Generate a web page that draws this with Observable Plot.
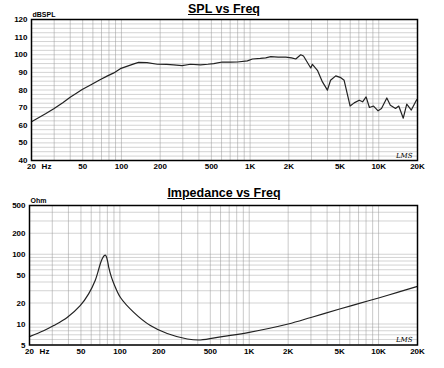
<!DOCTYPE html>
<html>
<head>
<meta charset="utf-8">
<script src="https://cdn.jsdelivr.net/npm/d3@7"></script>
<script src="https://cdn.jsdelivr.net/npm/@observablehq/plot@0.6"></script>
<style>
  html, body { margin: 0; padding: 0; background: #fff; }
  #wrap { position: relative; width: 444px; height: 368px; font-family: "Liberation Sans", Arial, sans-serif; }
  #wrap svg { position: absolute; left: 0; }
  .title { position: absolute; left: 0; width: 444px; text-align: center; font-weight: bold; font-size: 12.5px; line-height: 14px; text-decoration: underline; text-underline-offset: 1px; color: #000; padding-left: 4px; box-sizing: border-box; z-index: 2; }
</style>
</head>
<body>
<div id="wrap">
  <div class="title" style="top:2px">SPL vs Freq</div>
  <div class="title" style="top:186px">Impedance vs Freq</div>
</div>
<script>
// SPL response (Hz, dB)
const splFreq = [20, 25.7, 29.8, 35, 40.2, 45, 49.5, 58, 68.7, 78, 87.3, 98, 110, 125, 136, 158, 190, 225, 255, 296, 344, 411, 470, 522, 607, 700, 797, 953, 1043, 1200, 1322, 1449, 1650, 1894, 2100, 2264, 2474, 2600, 2960, 3050, 3336, 3650, 3990, 4220, 4630, 5070, 5380, 5990, 6440, 7050, 7490, 7970, 8460, 9110, 9880, 10500, 11550, 12300, 13500, 14300, 15500, 16500, 17900, 19600, 20000];
const splDb   = [62, 66.5, 69.3, 72.8, 76, 78.3, 80.3, 83, 86, 88, 89.7, 92.1, 93.4, 94.8, 95.7, 95.5, 94.6, 94.5, 94.3, 93.8, 94.6, 94.3, 94.6, 95, 95.9, 95.8, 95.9, 96.5, 97.6, 97.9, 98.2, 98.9, 98.7, 98.6, 98.2, 97.6, 100, 99.3, 92.5, 94.6, 91.2, 84.6, 79.9, 85.5, 88, 87, 85.5, 70.9, 72.7, 74.2, 73.3, 76.1, 70.1, 70.9, 68.2, 69.5, 75.5, 71.4, 69.5, 70.9, 64, 72, 68.6, 74.2, 74.8];

// Impedance (Hz, Ohm)
const impFreq = [20, 25.7, 30.8, 39.1, 49.3, 57.3, 64.4, 67.5, 70.4, 73, 75.5, 77, 78.5, 80.5, 82, 86, 90, 101, 128, 172, 232, 332, 420, 618, 1000, 2000, 3000, 5000, 7000, 10000, 14000, 20000];
const impOhm  = [6.6, 8.0, 9.5, 12.4, 18.3, 27, 42, 55, 72, 86, 95, 97, 93, 78, 65, 47, 37.5, 24, 14.7, 9.5, 7.3, 6.1, 5.9, 6.6, 7.6, 10, 12.4, 16.4, 19.6, 23.6, 28.4, 34.7];

// axes / grid values
const xTicks = [20, 50, 100, 200, 500, 1000, 2000, 5000, 10000, 20000];
const splTicks = [40, 50, 60, 70, 80, 90, 100, 110, 120];
const impTicks = [5, 10, 20, 50, 100, 200, 500];

const xGrid = [];
for (const dec of [10, 100, 1000, 10000]) for (let k = 1; k <= 9; k++) { const v = k * dec; if (v >= 20 && v <= 20000) xGrid.push(v); }
xGrid.push(20000);
const splGrid = d3.range(40, 120.01, 2.5);
const impGrid = [];
for (const dec of [1, 10, 100]) for (let k = 1; k <= 9; k++) { const v = k * dec; if (v >= 5 && v <= 500) impGrid.push(v); }

const fmtX = d => d >= 1000 ? (d / 1000) + "K" : String(d);
const font = "'Liberation Sans', Arial, sans-serif";

const splData = splFreq.map((f, i) => ({f, v: splDb[i]}));
const impData = impFreq.map((f, i) => ({f, v: impOhm[i]}));

function chart({data, yType, yDomain, yTicks, yGrid, height, mt, mb, ml, unit, curve}) {
  return Plot.plot({
    width: 444, height,
    marginTop: mt, marginBottom: mb, marginLeft: ml, marginRight: 27,
    style: {fontFamily: font, fontSize: "8px", fontWeight: "bold", background: "white", color: "#000"},
    x: {type: "log", domain: [20, 20000], axis: null},
    y: {type: yType, domain: yDomain, axis: null},
    marks: [
      Plot.gridX(xGrid, {stroke: "#999", strokeOpacity: 0.65, strokeWidth: 0.8}),
      Plot.gridY(yGrid, {stroke: "#999", strokeOpacity: 0.55, strokeWidth: 0.8}),
      // x tick labels
      Plot.text(xTicks, {x: d => d, frameAnchor: "bottom", dy: 3, lineAnchor: "top", text: fmtX, fontSize: 8, fontWeight: "bold"}),
      // y tick labels
      Plot.text(yTicks, {y: d => d, frameAnchor: "left", dx: -4, textAnchor: "end", text: d => String(d), fontSize: 8, fontWeight: "bold"}),
      Plot.line(data, {x: "f", y: "v", stroke: "#222", strokeWidth: 1.2, curve}),
      Plot.frame({stroke: "#000", strokeWidth: 1.5}),
      Plot.text([unit], {frameAnchor: "top-left", text: d => d, dy: -3, dx: 1, lineAnchor: "bottom", textAnchor: "start", fontSize: 7, fontWeight: "bold"}),
      Plot.text(["Hz"], {x: () => 20, frameAnchor: "bottom", text: d => d, dx: 15, dy: 3, lineAnchor: "top", fontSize: 8, fontWeight: "bold"}),
      Plot.text(["LMS"], {frameAnchor: "bottom-right", text: d => d, dx: -5, dy: -3, textAnchor: "end", lineAnchor: "bottom", fontSize: 7, fontStyle: "italic", fontWeight: "normal", fontFamily: "'DejaVu Serif', serif"})
    ]
  });
}

const splChart = chart({data: splData, yType: "linear", yDomain: [40, 120], yTicks: splTicks, yGrid: splGrid, height: 180, mt: 19, mb: 20, ml: 31, unit: "dBSPL", curve: "linear"});
splChart.style.top = "0px";
const impChart = chart({data: impData, yType: "log", yDomain: [5, 500], yTicks: impTicks, yGrid: impGrid, height: 188, mt: 25, mb: 23.5, ml: 29, unit: "Ohm", curve: "catmull-rom"});
impChart.style.top = "180px";
const wrap = document.getElementById("wrap");
wrap.insertBefore(splChart, wrap.firstChild);
wrap.insertBefore(impChart, wrap.firstChild);
</script>
</body>
</html>
